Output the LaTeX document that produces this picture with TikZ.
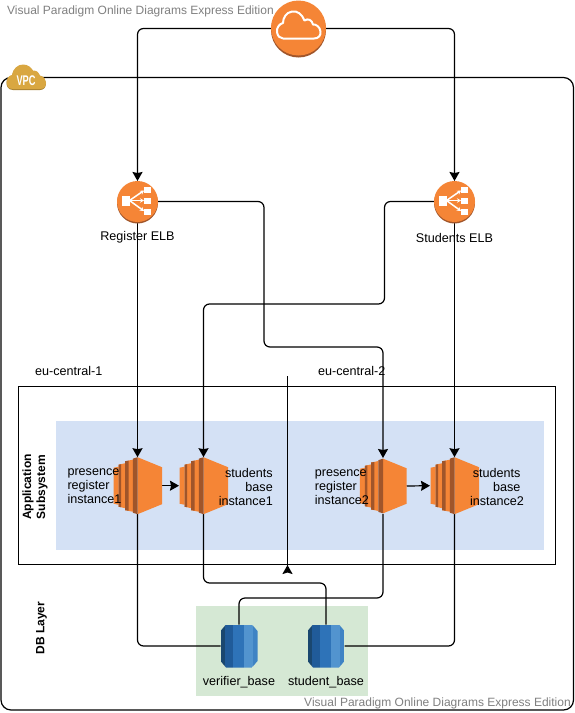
\documentclass[tikz,border=0pt]{standalone}
\usepackage{fontspec}
\setmainfont{Liberation Sans}
\usetikzlibrary{arrows.meta,shapes.geometric,positioning}
\definecolor{awsorange}{HTML}{F58536}
\definecolor{awsshade}{HTML}{A0552A}
\definecolor{awsgold}{HTML}{D9A741}
\definecolor{awsgolddark}{HTML}{A98232}
\definecolor{regionblue}{HTML}{D4E1F5}
\definecolor{dbgreen}{HTML}{D5E8D4}
\definecolor{dbdark}{HTML}{1A476F}
\definecolor{dbmid}{HTML}{205B99}
\definecolor{dbcentre}{HTML}{2E73B8}
\definecolor{dblight}{HTML}{5294CF}
\definecolor{dbedge}{HTML}{3F83C4}
\tikzstyle{line} = [draw, -{Stealth[length=9pt,width=10pt,inset=1pt]}, rounded corners=6pt, line width=1.2pt]
\tikzstyle{plain} = [draw, rounded corners=6pt, line width=1.2pt]
\tikzstyle{anchorbox} = [draw=none, fill=none, inner sep=0pt, outer sep=0pt]
\tikzstyle{elbbox} = [anchorbox, circle, minimum size=41pt]
\tikzstyle{ecbox} = [anchorbox, rectangle, minimum width=49pt, minimum height=57pt]
\tikzstyle{dbbox} = [anchorbox, rectangle, minimum width=37pt, minimum height=43pt]
\tikzstyle{lbl} = [inner sep=0pt, font=\fontsize{12.6}{14}\selectfont]
\tikzstyle{sidelbl} = [inner sep=0pt, rotate=90, align=center, font=\fontsize{12}{14}\selectfont\bfseries]
\tikzstyle{wmark} = [inner sep=0pt, text=black!50, font=\fontsize{12}{14}\selectfont]
\tikzset{
  elbicon/.pic={
    \fill [awsshade] (0,1.5) circle (20.5);
    \fill [awsorange] (0,0) circle (20.5);
    \fill [white] (-15.5,-6) rectangle (-8,4);
    \fill [white] (6,-14.5) rectangle (13.5,-8.5);
    \fill [white] (6,-4) rectangle (13.5,2);
    \fill [white] (6,7) rectangle (13.5,13);
    \draw [white, line width=1.5pt, -{Stealth[length=4pt,width=4.5pt]}] (-8,-1) -- (6.5,-11);
    \draw [white, line width=1.5pt, -{Stealth[length=4pt,width=4.5pt]}] (-8,-1) -- (6.5,-1);
    \draw [white, line width=1.5pt, -{Stealth[length=4pt,width=4.5pt]}] (-8,-1) -- (6.5,9.5);
  },
  ecicon/.pic={
    \fill [awsorange] (-24,-18) -- (-19,-19) -- (-19,19) -- (-24,18) -- cycle;
    \fill [awsorange] (-19,-21) -- (-12.3,-22.5) -- (-12.3,22.5) -- (-19,21) -- cycle;
    \fill [awsorange] (-12.3,-24.5) -- (-4.7,-26) -- (-4.7,26) -- (-12.3,24.5) -- cycle;
    \fill [awsorange] (0,-28.5) -- (24.5,-18.5) -- (24.5,18.5) -- (0,28.5) -- cycle;
    \fill [awsshade] (-19,-21) -- (-16.3,-21.5) -- (-16.3,21.5) -- (-19,21) -- cycle;
    \fill [awsshade] (-12.3,-24.5) -- (-9,-25) -- (-9,25) -- (-12.3,24.5) -- cycle;
    \fill [awsshade] (-4.7,-27) -- (0,-28.5) -- (0,28.5) -- (-4.7,27) -- cycle;
  },
  dbicon/.pic={
    \begin{scope}
      \clip (-13,-21.5) -- (13,-21.5) -- (18.5,-15) -- (18.5,15) -- (13,21.5) -- (-13,21.5) -- (-18.5,15) -- (-18.5,-15) -- cycle;
      \fill [dbdark] (-18.5,-21.5) rectangle (-14.5,21.5);
      \fill [dbmid] (-14.5,-21.5) rectangle (-6.5,21.5);
      \fill [dbcentre] (-6.5,-21.5) rectangle (5,21.5);
      \fill [dblight] (5,-21.5) rectangle (14,21.5);
      \fill [dbedge] (14,-21.5) rectangle (18.5,21.5);
    \end{scope}
  }
}
\begin{document}
\begin{tikzpicture}[x=1pt,y=-1pt]
    \useasboundingbox (0,0) rectangle (575,713);
    % containers
    \fill [white] (0,0) rectangle (575,713);
    \node [wmark, anchor=west] (markTop) at (7,11) {Visual Paradigm Online Diagrams Express Edition};
    \draw [line width=1.2pt, rounded corners=10pt] (1,77.5) rectangle (573.5,710);
    \draw [line width=1.2pt] (18.5,386.5) rectangle (555.5,564.5);
    \fill [regionblue] (56,421) rectangle (543.5,550);
    \fill [dbgreen] (196,606) rectangle (368,696);
    % icon anchors
    \node [anchorbox, circle, minimum size=55pt] (cloud) at (298.5,28.5) {};
    \node [elbbox] (elb1) at (137.5,201.5) {};
    \node [elbbox] (elb2) at (454.5,201.5) {};
    \node [ecbox] (inst1) at (137.5,485.7) {};
    \node [ecbox] (inst2) at (203.5,485.7) {};
    \node [ecbox, minimum width=47pt, minimum height=56pt] (inst3) at (383,486) {};
    \node [ecbox] (inst4) at (454.5,485.7) {};
    \node [dbbox] (db1) at (239,646) {};
    \node [dbbox] (db2) at (326,646) {};
    \coordinate (free1) at (287.5,376);
    \coordinate (free2) at (287.5,574);
    % connectors
    \path [line] (cloud.west) -| (elb1.north);
    \path [line] (cloud.east) -| (elb2.north);
    \path [line] (elb1.south) -- (inst1.north);
    \path [line] (elb2.south) -- (inst4.north);
    \path [line] (elb1.east) -| (264,347) -| (inst3.north);
    \path [line] (elb2.west) -| (384.5,304) -| (inst2.north);
    \path [line] (inst1.east) -- (inst2.west);
    \path [line] (inst3.east) -- (inst4.west);
    \path [plain] (inst1.south) |- (db1.west);
    \path [plain] (inst4.south) |- (db2.east);
    \path [plain] (inst2.south) |- (326,583) -- (db2.north);
    \path [plain] (inst3.south) |- (239,598) -- (db1.north);
    \path [line, -{Stealth[length=9pt,width=10pt,inset=1.5pt,reversed]}] (free1) -- (free2);
    % icons
    \fill [awsshade] (298.5,30) circle (27.5);
    \fill [awsorange] (298.5,28) circle (27.5);
    \draw [white, line width=2pt, line join=round] (283,38.5) -- (314,38.5) .. controls (319,38.5) and (321,35) .. (320.5,31.5) .. controls (320,27) and (316,24) .. (313,24.5) .. controls (312,20) and (308,18) .. (304.5,20.5) .. controls (302,14) and (297,10.5) .. (292,11.5) .. controls (286,12.5) and (283,18) .. (283,23) .. controls (279,24) and (276.5,28) .. (277,32) .. controls (277.5,36) and (280,38.5) .. (283,38.5);
    \pic at (elb1.center) {elbicon};
    \pic at (elb2.center) {elbicon};
    \pic at (inst1.center) {ecicon};
    \pic at (inst2.center) {ecicon};
    \pic [scale=0.96] at (inst3.center) {ecicon};
    \pic at (inst4.center) {ecicon};
    \pic at (db1.center) {dbicon};
    \pic at (db2.center) {dbicon};
    \fill [awsgolddark] (13,90) .. controls (8,90) and (6.5,86) .. (6.5,83) .. controls (6.5,79) and (9,76) .. (12,75.5) .. controls (13,69) and (18,65) .. (23,65) .. controls (28,65) and (31,68) .. (33,71) .. controls (37,71) and (39,73) .. (40,76) .. controls (44,77) and (46,80) .. (46,83) .. controls (46,87) and (44,90) .. (40,90) -- cycle;
    \fill [awsgold] (13,89) .. controls (8,89) and (6.5,85.5) .. (6.5,82.5) .. controls (6.5,78.5) and (9,75.5) .. (12,75) .. controls (13,68.5) and (18,64.5) .. (23,64.5) .. controls (28,64.5) and (31,67.5) .. (33,70.5) .. controls (37,70.5) and (39,72.5) .. (40,75.5) .. controls (44,76.5) and (46,79.5) .. (46,82.5) .. controls (46,86.5) and (44,89) .. (40,89) -- cycle;
    \node [inner sep=0pt, text=white, xscale=0.66, font=\fontsize{14}{14}\selectfont\bfseries] (vpc) at (26,81) {VPC};
    % labels
    \node [lbl, below of=elb1, node distance=36pt] (elb1txt) {Register ELB};
    \node [lbl, below of=elb2, node distance=36pt] (elb2txt) {Students ELB};
    \node [lbl, anchor=west] (zone1) at (35,371) {eu-central-1};
    \node [lbl, anchor=west] (zone2) at (318,371) {eu-central-2};
    \node [lbl, anchor=west, align=left] (inst1txt) at (67.3,486.5) {presence\\register\\instance1};
    \node [lbl, anchor=east, align=right] (inst2txt) at (273,486.5) {students\\base\\instance1};
    \node [lbl, anchor=west, align=left] (inst3txt) at (314.7,487.5) {presence\\register\\instance2};
    \node [lbl, anchor=east, align=right] (inst4txt) at (520.7,486.5) {students\\base\\instance2\hspace*{-3.5pt}};
    \node [sidelbl] (apptxt) at (35,487) {Application\\Subsystem};
    \node [sidelbl] (dbtxt) at (41.5,628) {DB Layer};
    \node [lbl, below of=db1, node distance=36pt] (db1txt) {verifier\_base};
    \node [lbl, below of=db2, node distance=36pt] (db2txt) {student\_base};
    \node [wmark, anchor=east] (markBottom) at (571,703) {Visual Paradigm Online Diagrams Express Edition};
\end{tikzpicture}
\end{document}
